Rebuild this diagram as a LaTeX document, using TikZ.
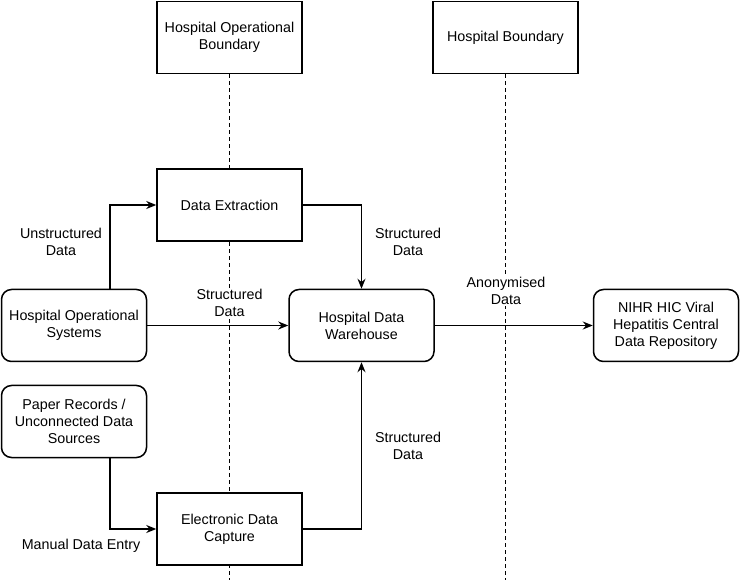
\documentclass[tikz,border=0pt]{standalone}
\usepackage{fontspec}
\setmainfont{Liberation Sans}
\usepackage{tikz}
\usetikzlibrary{arrows.meta, positioning}

\begin{document}
\begin{tikzpicture}[x=1pt, y=-1pt, line width=1.5pt,
        font=\fontsize{14.3}{17}\selectfont,
        box/.style={draw, fill=white, minimum width=145pt, minimum height=72pt, align=center, inner sep=2pt},
        roundbox/.style={box, rounded corners=10pt},
        lbl/.style={fill=white, align=center, inner sep=1pt},
        flow/.style={-{Stealth[length=10pt, width=8pt]}}]
        \useasboundingbox (0,0) rectangle (740,580);

        % boundaries
        \node[box] (opbound) at (229.5, 37.5) {Hospital Operational\\Boundary};
        \node[box] (hospbound) at (505.5, 37.5) {Hospital Boundary};
        \coordinate (opend) at (229.5, 580);
        \coordinate (hospend) at (505.5, 580);
        \draw[dashed, line width=1.3pt, dash pattern=on 4pt off 3pt] (opbound.south) -- (opend)
            (hospbound.south) -- (hospend);

        % processes
        \node[box] (extract) at (229.5, 205) {Data Extraction};
        \node[roundbox] (opsys) at (74, 325.5) {Hospital Operational\\Systems};
        \node[roundbox] (warehouse) at (361.5, 325.5) {Hospital Data\\Warehouse};
        \node[roundbox] (nihr) at (666, 325.5) {NIHR HIC Viral\\Hepatitis Central\\Data Repository};
        \node[roundbox] (paper) at (74, 421.5) {Paper Records /\\Unconnected Data\\Sources};
        \node[box] (capture) at (229.5, 529) {Electronic Data\\Capture};

        \draw[flow] ([xshift=36pt]opsys.north) |- (extract.west);
        \draw[flow] (extract.east) -| (warehouse.north);
        \draw[flow] (opsys.east) -- (warehouse.west);
        \draw[flow] ([xshift=36pt]paper.south) |- (capture.west);
        \draw[flow] (capture.east) -| (warehouse.south);
        \draw[flow] (warehouse.east) -- (nihr.west);

        % labels
        \node[lbl] (unstruct) at (61, 242) {Unstructured\\Data};
        \node[lbl] (structmid) at (229.5, 303) {Structured\\Data};
        \node[lbl] (structtop) at (408, 242) {Structured\\Data};
        \node[lbl] (anon) at (506, 291) {Anonymised\\Data};
        \node[lbl] (structlow) at (408, 446) {Structured\\Data};
        \node[lbl] (manual) at (81, 546) {Manual Data Entry};
\end{tikzpicture}
\end{document}
